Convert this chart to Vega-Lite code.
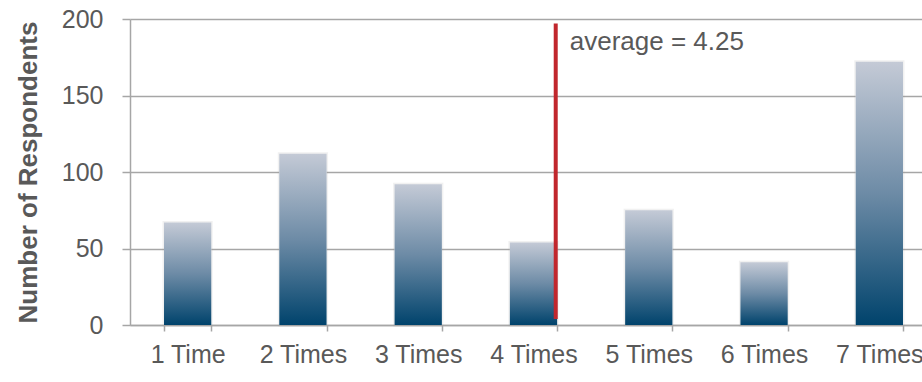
{
  "$schema": "https://vega.github.io/schema/vega-lite/v6.json",
  "autosize": "none",
  "width": 792,
  "height": 306,
  "padding": {"left": 130, "top": 19, "right": 0, "bottom": 57},
  "background": "white",
  "config": {
    "view": {"stroke": null},
    "font": "Liberation Sans",
    "axis": {"labelFont": "Liberation Sans", "titleFont": "Liberation Sans", "labelColor": "#595959", "titleColor": "#595959"}
  },
  "datasets": {
    "counts": [
      {"times": "1 Time", "respondents": 67},
      {"times": "2 Times", "respondents": 112},
      {"times": "3 Times", "respondents": 92},
      {"times": "4 Times", "respondents": 54},
      {"times": "5 Times", "respondents": 75},
      {"times": "6 Times", "respondents": 41},
      {"times": "7 Times", "respondents": 172}
    ],
    "avg": [
      {"times": "4 Times", "y_start": 4, "y_end": 197, "label_y": 185, "label": "average = 4.25"}
    ]
  },
  "encoding": {
    "x": {
      "field": "times", "type": "nominal", "sort": null,
      "scale": {"range": [0, 807], "paddingInner": 0.59, "paddingOuter": 0.295},
      "axis": {
        "title": null, "labelAngle": 0, "labelFontSize": 25, "labelPadding": 11,
        "tickBand": "extent", "tickSize": 6, "tickColor": "#a6a6a6", "tickWidth": 1.5,
        "domainColor": "#a6a6a6", "domainWidth": 1.5, "grid": false
      }
    }
  },
  "layer": [
    {
      "data": {"name": "counts"},
      "mark": {"type": "bar", "color": "#ffffff", "stroke": "#9a9a9a", "strokeOpacity": 0.14, "strokeWidth": 3},
      "encoding": {
        "y": {
          "field": "respondents", "type": "quantitative",
          "scale": {"domain": [0, 200]},
          "axis": {
            "title": "Number of Respondents", "titleFontSize": 26, "titleFontWeight": "bold", "titlePadding": 20,
            "values": [0, 50, 100, 150, 200], "labelFontSize": 25, "labelPadding": 19,
            "tickSize": 8, "tickColor": "#a6a6a6", "tickWidth": 1.5,
            "gridColor": "#a6a6a6", "gridWidth": 1.5, "domainColor": "#a6a6a6", "domainWidth": 1.5
          }
        }
      }
    },
    {
      "data": {"name": "counts"},
      "mark": {
        "type": "bar",
        "color": {
          "gradient": "linear", "x1": 0, "y1": 0, "x2": 0, "y2": 1,
          "stops": [
            {"offset": 0, "color": "#c4cad6"},
            {"offset": 0.5, "color": "#6d8ba6"},
            {"offset": 1, "color": "#00436c"}
          ]
        }
      },
      "encoding": {
        "y": {"field": "respondents", "type": "quantitative"}
      }
    },
    {
      "data": {"name": "avg"},
      "mark": {"type": "rule", "color": "#c1272d", "strokeWidth": 4},
      "encoding": {
        "x": {"field": "times", "type": "nominal", "bandPosition": 0.97},
        "y": {"field": "y_start", "type": "quantitative"},
        "y2": {"field": "y_end"}
      }
    },
    {
      "data": {"name": "avg"},
      "mark": {"type": "text", "align": "left", "baseline": "middle", "dx": 14, "fontSize": 26, "color": "#595959", "font": "Liberation Sans"},
      "encoding": {
        "x": {"field": "times", "type": "nominal", "bandPosition": 0.97},
        "y": {"field": "label_y", "type": "quantitative"},
        "text": {"field": "label"}
      }
    }
  ]
}
